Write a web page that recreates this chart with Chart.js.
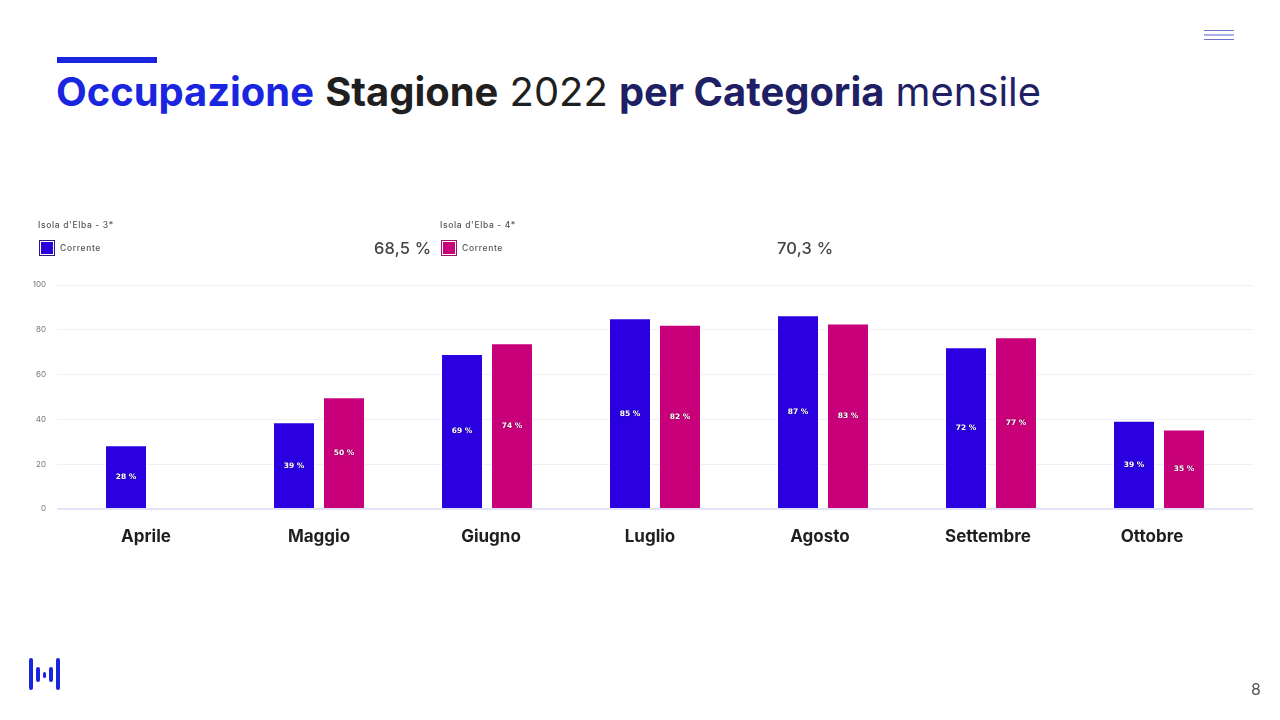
<!DOCTYPE html>
<html>
<head>
<meta charset="utf-8">
<script src="https://cdn.jsdelivr.net/npm/chart.js@4"></script>
<style>
html, body { margin: 0; padding: 0; background: #fff; }
body { width: 1280px; height: 720px; position: relative; overflow: hidden; font-family: Inter, sans-serif; }
#chart { position: absolute; left: 0; top: 0; }
.abs { position: absolute; }
#title { left: 56px; top: 66px; font-size: 39.9px; line-height: 52px; white-space: nowrap; color: #1f1f1f; }
#title b { font-weight: 700; }
.blue { color: #1a25e0; }
.navy { color: #1f1f66; }
.bar { position: absolute; background: #1a25e0; border-radius: 2px; }
.rule { position: absolute; left: 1204px; width: 30px; }
.grp { font-size: 8.5px; font-weight: 500; color: #555; letter-spacing: 0.65px; white-space: nowrap; }
.swatch { width: 14px; height: 14px; border: 1.5px solid; padding: 0; box-sizing: content-box; }
.swatch i { display: block; width: 12px; height: 12px; margin: 1px; }
.total { font-size: 16.5px; font-weight: 500; color: #444; letter-spacing: 0.2px; white-space: nowrap; }
</style>
</head>
<body>
<div class="abs" style="left:57px;top:57px;width:100px;height:6px;background:#1a25e0"></div>
<div class="abs" id="title"><b class="blue">Occupazione</b> <b>Stagione</b> 2022 <b class="navy">per Categoria</b> <span class="navy">mensile</span></div>

<div class="rule" style="top:30px;height:1px;background:#6f74c4"></div>
<div class="rule" style="top:34px;height:2px;background:#a9acea"></div>
<div class="rule" style="top:39px;height:1px;background:#6f74c4"></div>

<canvas id="chart" width="1280" height="720"></canvas>

<div class="abs grp" style="left:38px;top:220px">Isola d'Elba - 3*</div>
<div class="abs swatch" style="left:39px;top:240px;border-color:#2a1a80"><i style="background:#2a00e0"></i></div>
<div class="abs grp" style="left:60px;top:243px">Corrente</div>
<div class="abs total" style="left:374px;top:238px">68,5 %</div>

<div class="abs grp" style="left:440px;top:220px">Isola d'Elba - 4*</div>
<div class="abs swatch" style="left:441px;top:240px;border-color:#a0106e"><i style="background:#c8007a"></i></div>
<div class="abs grp" style="left:462px;top:243px">Corrente</div>
<div class="abs total" style="left:777px;top:238px">70,3 %</div>

<div class="bar" style="left:29px;top:658px;width:4px;height:32px"></div>
<div class="bar" style="left:36px;top:667px;width:4px;height:15px"></div>
<div class="bar" style="left:43px;top:672px;width:3px;height:6px"></div>
<div class="bar" style="left:49px;top:667px;width:4px;height:15px"></div>
<div class="bar" style="left:56px;top:658px;width:4px;height:32px"></div>

<div class="abs" style="left:1251px;top:679px;font-size:16px;color:#555">8</div>

<script>
var categories = ["Aprile", "Maggio", "Giugno", "Luglio", "Agosto", "Settembre", "Ottobre"];
var stars3 = [28, 38.3, 68.8, 84.7, 86, 71.8, 38.9];
var stars4 = [null, 49.4, 73.5, 81.8, 82.4, 76.2, 35];
var stars3Labels = ["28 %", "39 %", "69 %", "85 %", "87 %", "72 %", "39 %"];
var stars4Labels = ["", "50 %", "74 %", "82 %", "83 %", "77 %", "35 %"];
var yTicks = [0, 20, 40, 60, 80, 100];

// the month names sit a little off the tick marks in the original
var monthNudge = [-5, 0, 4, -5, -3, -3, -7];

var gridColor = "#f0f0f6";
var baseColor = "#e4e3f5";

function lineColor(c) { return c.tick.value === 0 ? baseColor : gridColor; }
function lineWidth(c) { return c.tick.value === 0 ? 2 : 1; }

var barLabels = {
    id: "barLabels",
    afterDatasetsDraw: function (chart) {
        var ctx = chart.ctx;
        var texts = [stars3Labels, stars4Labels];
        ctx.save();
        ctx.font = "bold 7.5px 'DejaVu Sans'";
        ctx.textAlign = "center";
        ctx.textBaseline = "middle";
        ctx.fillStyle = "#fff";
        ctx.shadowColor = "rgba(0,0,0,0.6)";
        ctx.shadowBlur = 1.5;
        chart.data.datasets.forEach(function (ds, d) {
            chart.getDatasetMeta(d).data.forEach(function (bar, i) {
                if (!texts[d][i]) return;
                ctx.fillText(texts[d][i], bar.x, (bar.y + bar.base) / 2);
            });
        });
        ctx.restore();
    }
};

var monthLabels = {
    id: "monthLabels",
    afterDraw: function (chart) {
        var ctx = chart.ctx;
        var x = chart.scales.x;
        ctx.save();
        ctx.font = "700 17px Inter";
        ctx.textAlign = "center";
        ctx.textBaseline = "middle";
        ctx.fillStyle = "#1f1f1f";
        categories.forEach(function (name, i) {
            ctx.fillText(name, x.getPixelForTick(i) + monthNudge[i], 536.5);
        });
        ctx.restore();
    }
};

new Chart(document.getElementById("chart"), {
    type: "bar",
    data: {
        labels: categories,
        datasets: [
            { label: "Isola d'Elba - 3*", data: stars3, backgroundColor: "#2a00e0" },
            { label: "Isola d'Elba - 4*", data: stars4, backgroundColor: "#c8007a" }
        ]
    },
    options: {
        responsive: false,
        animation: false,
        layout: { padding: { top: 285 } },
        categoryPercentage: 0.595,
        barPercentage: 0.8,
        plugins: { legend: { display: false }, tooltip: { enabled: false } },
        scales: {
            x: {
                afterFit: function (s) { s.height = 211; },
                border: { display: false },
                grid: { offset: false, drawOnChartArea: false, tickLength: 3, color: "#efeef8" },
                ticks: { display: false }
            },
            y: {
                min: 0,
                max: 100,
                afterFit: function (s) { s.width = 67; },
                afterBuildTicks: function (s) { s.ticks = yTicks.map(function (v) { return { value: v }; }); },
                border: { display: false },
                grid: { color: lineColor, lineWidth: lineWidth, tickLength: 10 },
                ticks: { padding: 11, color: "#777", font: { family: "Inter", size: 8 } }
            },
            yRight: {
                position: "right",
                min: 0,
                max: 100,
                afterFit: function (s) { s.width = 37; },
                afterBuildTicks: function (s) { s.ticks = yTicks.map(function (v) { return { value: v }; }); },
                border: { display: false },
                grid: { color: lineColor, lineWidth: lineWidth, tickLength: 10, drawOnChartArea: false },
                ticks: { display: false }
            }
        }
    },
    plugins: [barLabels, monthLabels]
});
</script>
</body>
</html>
